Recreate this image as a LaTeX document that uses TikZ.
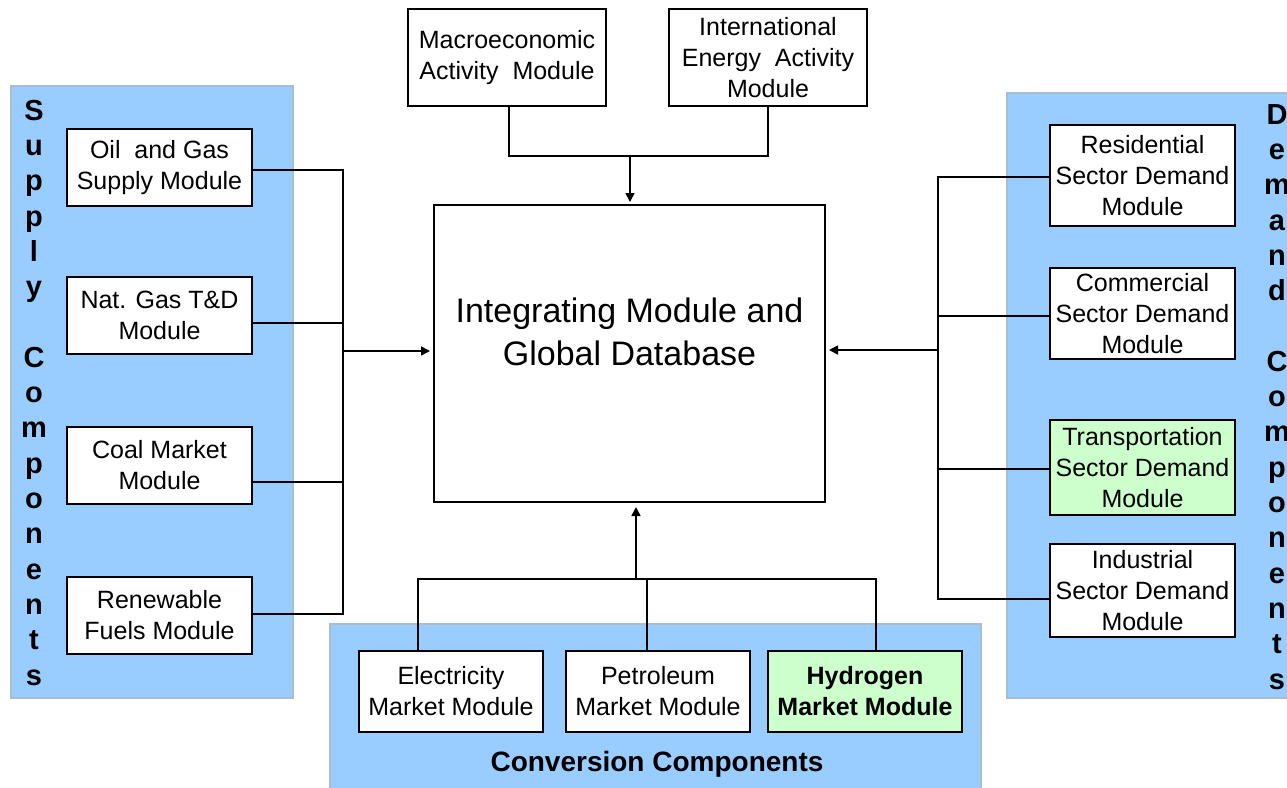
\documentclass[tikz,border=0pt]{standalone}
\usepackage{fontspec}
\setmainfont{Liberation Sans}
\usetikzlibrary{arrows.meta}
\definecolor{panelblue}{HTML}{99CCFF}
\definecolor{paneledge}{HTML}{A9BCD0}
\definecolor{lightgreen}{HTML}{CCFFCC}
\begin{document}
\begin{tikzpicture}[>={Triangle[length=4.5pt,width=4.5pt]}, x=.5pt, y=-.5pt,
    modbox/.style={draw, line width=1pt, fill=white, inner sep=0pt, align=center,
        font=\fontsize{12.5}{15.5}\selectfont},
    panel/.style={fill=panelblue, draw=paneledge, line width=.6pt},
    vlabel/.style={anchor=base, inner sep=0pt, font=\fontsize{14.5}{17}\selectfont\bfseries},
    link/.style={line width=.75pt}]
\useasboundingbox[fill=white](0,0) rectangle (1287,788);

% panels
\draw[panel](11,86) rectangle (293,698);
\draw[panel](1007,93) rectangle (1300,698);
\draw[panel](330,624) rectangle (981,800);

% side labels
\foreach \ch [count=\i] in {S,u,p,p,l,y}
    \node[vlabel] (supA\i) at (34,85+35.3*\i) {\ch};
\foreach \ch [count=\i] in {C,o,m,p,o,n,e,n,t,s}
    \node[vlabel] (supB\i) at (34,332+35.3*\i) {\ch};
\foreach \ch [count=\i] in {D,e,m,a,n,d}
    \node[vlabel] (demA\i) at (1277,89+35.3*\i) {\ch};
\foreach \ch [count=\i] in {C,o,m,p,o,n,e,n,t,s}
    \node[vlabel] (demB\i) at (1277,336+35.3*\i) {\ch};
\node[font=\fontsize{14}{17}\selectfont\bfseries] (convlabel) at (657,764) {Conversion Components};

% central module
\node[modbox, minimum width=195.5pt, minimum height=148.5pt] (core) at (629.5,353.5) {};
\node[align=center, font=\fontsize{17}{21.5}\selectfont] (coretext) at (629.5,332)
    {Integrating Module and\\Global Database};

% top
\node[modbox, minimum width=99pt, minimum height=48.5pt] (macro) at (507,57.5)
    {Macroeconomic\\Activity~ Module};
\node[modbox, minimum width=99pt, minimum height=48.5pt] (intl) at (768,57.5)
    {International\\Energy~ Activity\\Module};

% supply
\node[modbox, minimum width=92.5pt, minimum height=38.5pt] (oil) at (159.5,167.5)
    {Oil~ and Gas\\Supply Module};
\node[modbox, minimum width=92.5pt, minimum height=38.5pt] (natgas) at (159.5,315.5)
    {Nat. Gas T\&D\\Module};
\node[modbox, minimum width=92.5pt, minimum height=38.5pt] (coal) at (159.5,465.5)
    {Coal Market\\Module};
\node[modbox, minimum width=92.5pt, minimum height=38.5pt] (renew) at (159.5,615.5)
    {Renewable\\Fuels Module};

% demand
\node[modbox, minimum width=92.5pt, minimum height=50.5pt] (resid) at (1142.5,175.5)
    {Residential\\Sector Demand\\Module};
\node[modbox, minimum width=92.5pt, minimum height=45.5pt] (comm) at (1142.5,313.5)
    {Commercial\\Sector Demand\\Module};
\node[modbox, fill=lightgreen, minimum width=92.5pt, minimum height=47.5pt] (trans) at (1142.5,467.5)
    {Transportation\\Sector Demand\\Module};
\node[modbox, minimum width=92.5pt, minimum height=46.5pt] (indus) at (1142.5,590.5)
    {Industrial\\Sector Demand\\Module};

% conversion
\node[modbox, minimum width=92pt, minimum height=40.5pt] (elec) at (451,691.5)
    {Electricity\\Market Module};
\node[modbox, minimum width=92pt, minimum height=40.5pt] (petro) at (658,691.5)
    {Petroleum\\Market Module};
\node[modbox, fill=lightgreen, minimum width=97pt, minimum height=40.5pt,
    font=\fontsize{12.5}{15.5}\selectfont\bfseries] (hydro) at (865,691.5)
    {Hydrogen\\Market Module};

% connectors
\coordinate (tbus) at (630,156);
\coordinate (sbus) at (343,351);
\coordinate (dbus) at (938,350);
\coordinate (cbus) at (636,579);

\draw[link](macro.south -| 509,0) |- (tbus);
\draw[link](intl.south) |- (tbus);
\draw[link,->,shorten >=1pt](tbus) -- (core.north -| tbus);

\draw[link](oil.east |- 0,170) -| (sbus);
\draw[link](natgas.east |- 0,323) -| (sbus);
\draw[link](coal.east |- 0,482) -| (sbus);
\draw[link](renew.east |- 0,614) -| (sbus);
\draw[link,->,shorten >=1.5pt](sbus) -- (core.west |- sbus);

\draw[link](resid.west |- 0,177) -| (dbus);
\draw[link](comm.west |- 0,316) -| (dbus);
\draw[link](trans.west |- 0,469) -| (dbus);
\draw[link](indus.west |- 0,599) -| (dbus);
\draw[link,->,shorten >=1.5pt](dbus) -- (core.east |- dbus);

\draw[link](elec.north -| 418,0) |- (cbus);
\draw[link](petro.north -| 647,0) |- (cbus);
\draw[link](hydro.north -| 876,0) |- (cbus);
\draw[link,->,shorten >=2pt](cbus) -- (core.south -| cbus);
\end{tikzpicture}
\end{document}
